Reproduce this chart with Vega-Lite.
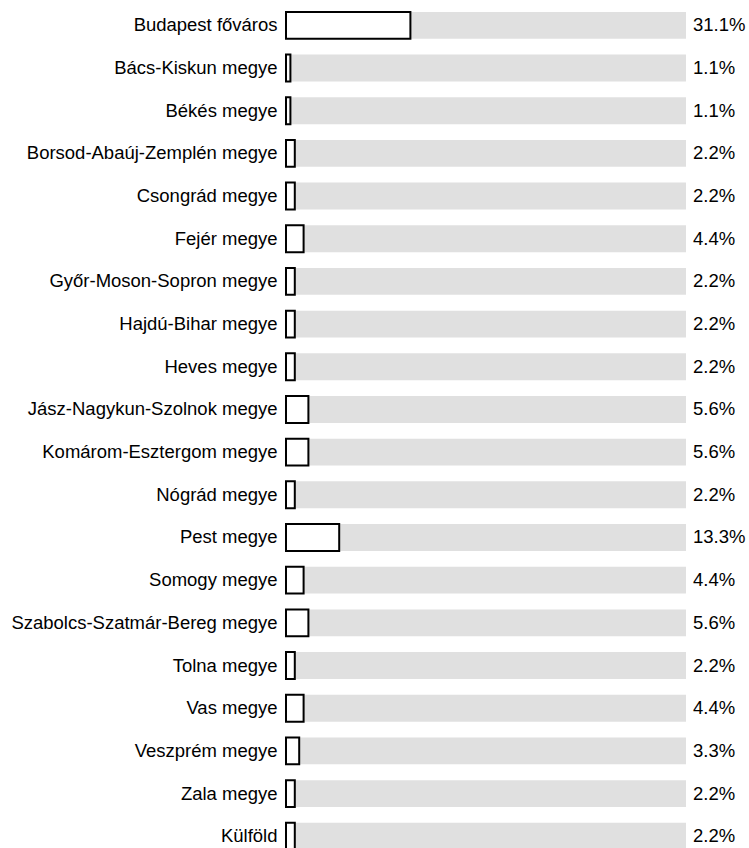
{
  "$schema": "https://vega.github.io/schema/vega-lite/v6.json",
  "autosize": {"type": "none"},
  "padding": {"left": 286, "top": 4, "right": 63, "bottom": 0},
  "width": 400,
  "height": 853.6,
  "background": "white",
  "config": {"view": {"stroke": null}, "font": "Liberation Sans"},
  "data": {
    "values": [
      {"region": "Budapest főváros", "pct": 31.1, "label": "31.1%"},
      {"region": "Bács-Kiskun megye", "pct": 1.1, "label": "1.1%"},
      {"region": "Békés megye", "pct": 1.1, "label": "1.1%"},
      {"region": "Borsod-Abaúj-Zemplén megye", "pct": 2.2, "label": "2.2%"},
      {"region": "Csongrád megye", "pct": 2.2, "label": "2.2%"},
      {"region": "Fejér megye", "pct": 4.4, "label": "4.4%"},
      {"region": "Győr-Moson-Sopron megye", "pct": 2.2, "label": "2.2%"},
      {"region": "Hajdú-Bihar megye", "pct": 2.2, "label": "2.2%"},
      {"region": "Heves megye", "pct": 2.2, "label": "2.2%"},
      {"region": "Jász-Nagykun-Szolnok megye", "pct": 5.6, "label": "5.6%"},
      {"region": "Komárom-Esztergom megye", "pct": 5.6, "label": "5.6%"},
      {"region": "Nógrád megye", "pct": 2.2, "label": "2.2%"},
      {"region": "Pest megye", "pct": 13.3, "label": "13.3%"},
      {"region": "Somogy megye", "pct": 4.4, "label": "4.4%"},
      {"region": "Szabolcs-Szatmár-Bereg megye", "pct": 5.6, "label": "5.6%"},
      {"region": "Tolna megye", "pct": 2.2, "label": "2.2%"},
      {"region": "Vas megye", "pct": 4.4, "label": "4.4%"},
      {"region": "Veszprém megye", "pct": 3.3, "label": "3.3%"},
      {"region": "Zala megye", "pct": 2.2, "label": "2.2%"},
      {"region": "Külföld", "pct": 2.2, "label": "2.2%"}
    ]
  },
  "encoding": {
    "y": {
      "field": "region",
      "type": "nominal",
      "sort": null,
      "scale": {"paddingInner": 0.37, "paddingOuter": 0.185},
      "axis": {
        "title": null,
        "ticks": false,
        "domain": false,
        "labelPadding": 9,
        "labelFontSize": 18.5,
        "labelColor": "#000000",
        "labelFont": "Liberation Sans",
        "labelLimit": 400
      }
    }
  },
  "layer": [
    {
      "mark": {"type": "bar", "color": "#e0e0e0"},
      "encoding": {
        "x": {"datum": 100, "type": "quantitative", "scale": {"domain": [0, 100]}, "axis": null}
      }
    },
    {
      "mark": {"type": "bar", "fill": "white", "stroke": "black", "strokeWidth": 2},
      "encoding": {
        "x": {"field": "pct", "type": "quantitative", "scale": {"domain": [0, 100]}, "axis": null}
      }
    },
    {
      "mark": {"type": "text", "align": "left", "baseline": "middle", "dx": 7, "fontSize": 18.5, "font": "Liberation Sans", "color": "#000000"},
      "encoding": {
        "x": {"datum": 100, "type": "quantitative"},
        "text": {"field": "label", "type": "nominal"}
      }
    }
  ]
}
